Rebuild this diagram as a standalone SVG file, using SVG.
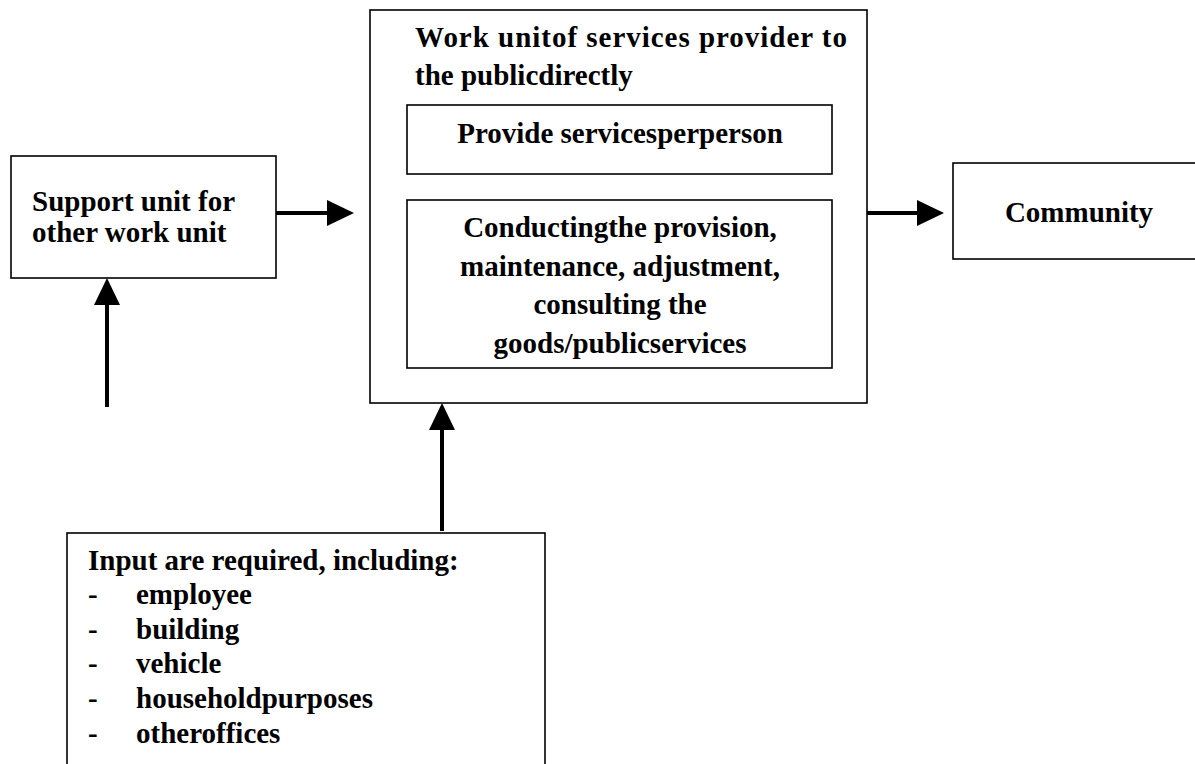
<svg xmlns="http://www.w3.org/2000/svg" width="1195" height="764" viewBox="0 0 1195 764">
<style>
.box{fill:#fff;stroke:#000;stroke-width:1.6}
.t{font-family:"Liberation Serif","Times New Roman",serif;font-weight:bold;font-size:29px;fill:#000}
.c{text-anchor:middle}
.conn line{stroke:#000;stroke-width:4}
.conn polygon{fill:#000}
</style>
<rect width="1195" height="764" fill="#fff"/>
<g id="support">
<rect class="box" x="11" y="156" width="265" height="122"/>
<text class="t" x="32" y="211">Support unit for</text>
<text class="t" x="32" y="242">other work unit</text>
</g>
<g id="main">
<rect class="box" x="370" y="10" width="497" height="393"/>
<text class="t" x="415" y="47" textLength="432" lengthAdjust="spacing">Work unitof services provider to</text>
<text class="t" x="415" y="85">the publicdirectly</text>
</g>
<g id="provide">
<rect class="box" x="407" y="105" width="425" height="69"/>
<text class="t c" x="620" y="143">Provide servicesperperson</text>
</g>
<g id="conducting">
<rect class="box" x="407" y="200" width="425" height="168"/>
<text class="t c" x="620" y="237">Conductingthe provision,</text>
<text class="t c" x="620" y="276">maintenance, adjustment,</text>
<text class="t c" x="620" y="314">consulting the</text>
<text class="t c" x="620" y="353">goods/publicservices</text>
</g>
<g id="community">
<rect class="box" x="953" y="163" width="260" height="96"/>
<text class="t c" x="1079" y="222">Community</text>
</g>
<g id="inputs">
<rect class="box" x="67" y="533" width="478" height="250"/>
<text class="t" x="88" y="570">Input are required, including:</text>
<text class="t" x="88" y="604">-</text><text class="t" x="136" y="604">employee</text>
<text class="t" x="88" y="639">-</text><text class="t" x="136" y="639">building</text>
<text class="t" x="88" y="673">-</text><text class="t" x="136" y="673">vehicle</text>
<text class="t" x="88" y="708">-</text><text class="t" x="136" y="708">householdpurposes</text>
<text class="t" x="88" y="743">-</text><text class="t" x="136" y="743">otheroffices</text>
</g>
<g id="connectors" class="conn">
<line x1="276" y1="213" x2="328" y2="213"/>
<polygon points="327,200 354,213 327,226"/>
<line x1="867" y1="213" x2="918" y2="213"/>
<polygon points="917,200 944,213 917,226"/>
<line x1="107" y1="407" x2="107" y2="303"/>
<polygon points="94,305 107,278 120,305"/>
<line x1="442" y1="531" x2="442" y2="428"/>
<polygon points="429,430 442,403 455,430"/>
</g>
</svg>
